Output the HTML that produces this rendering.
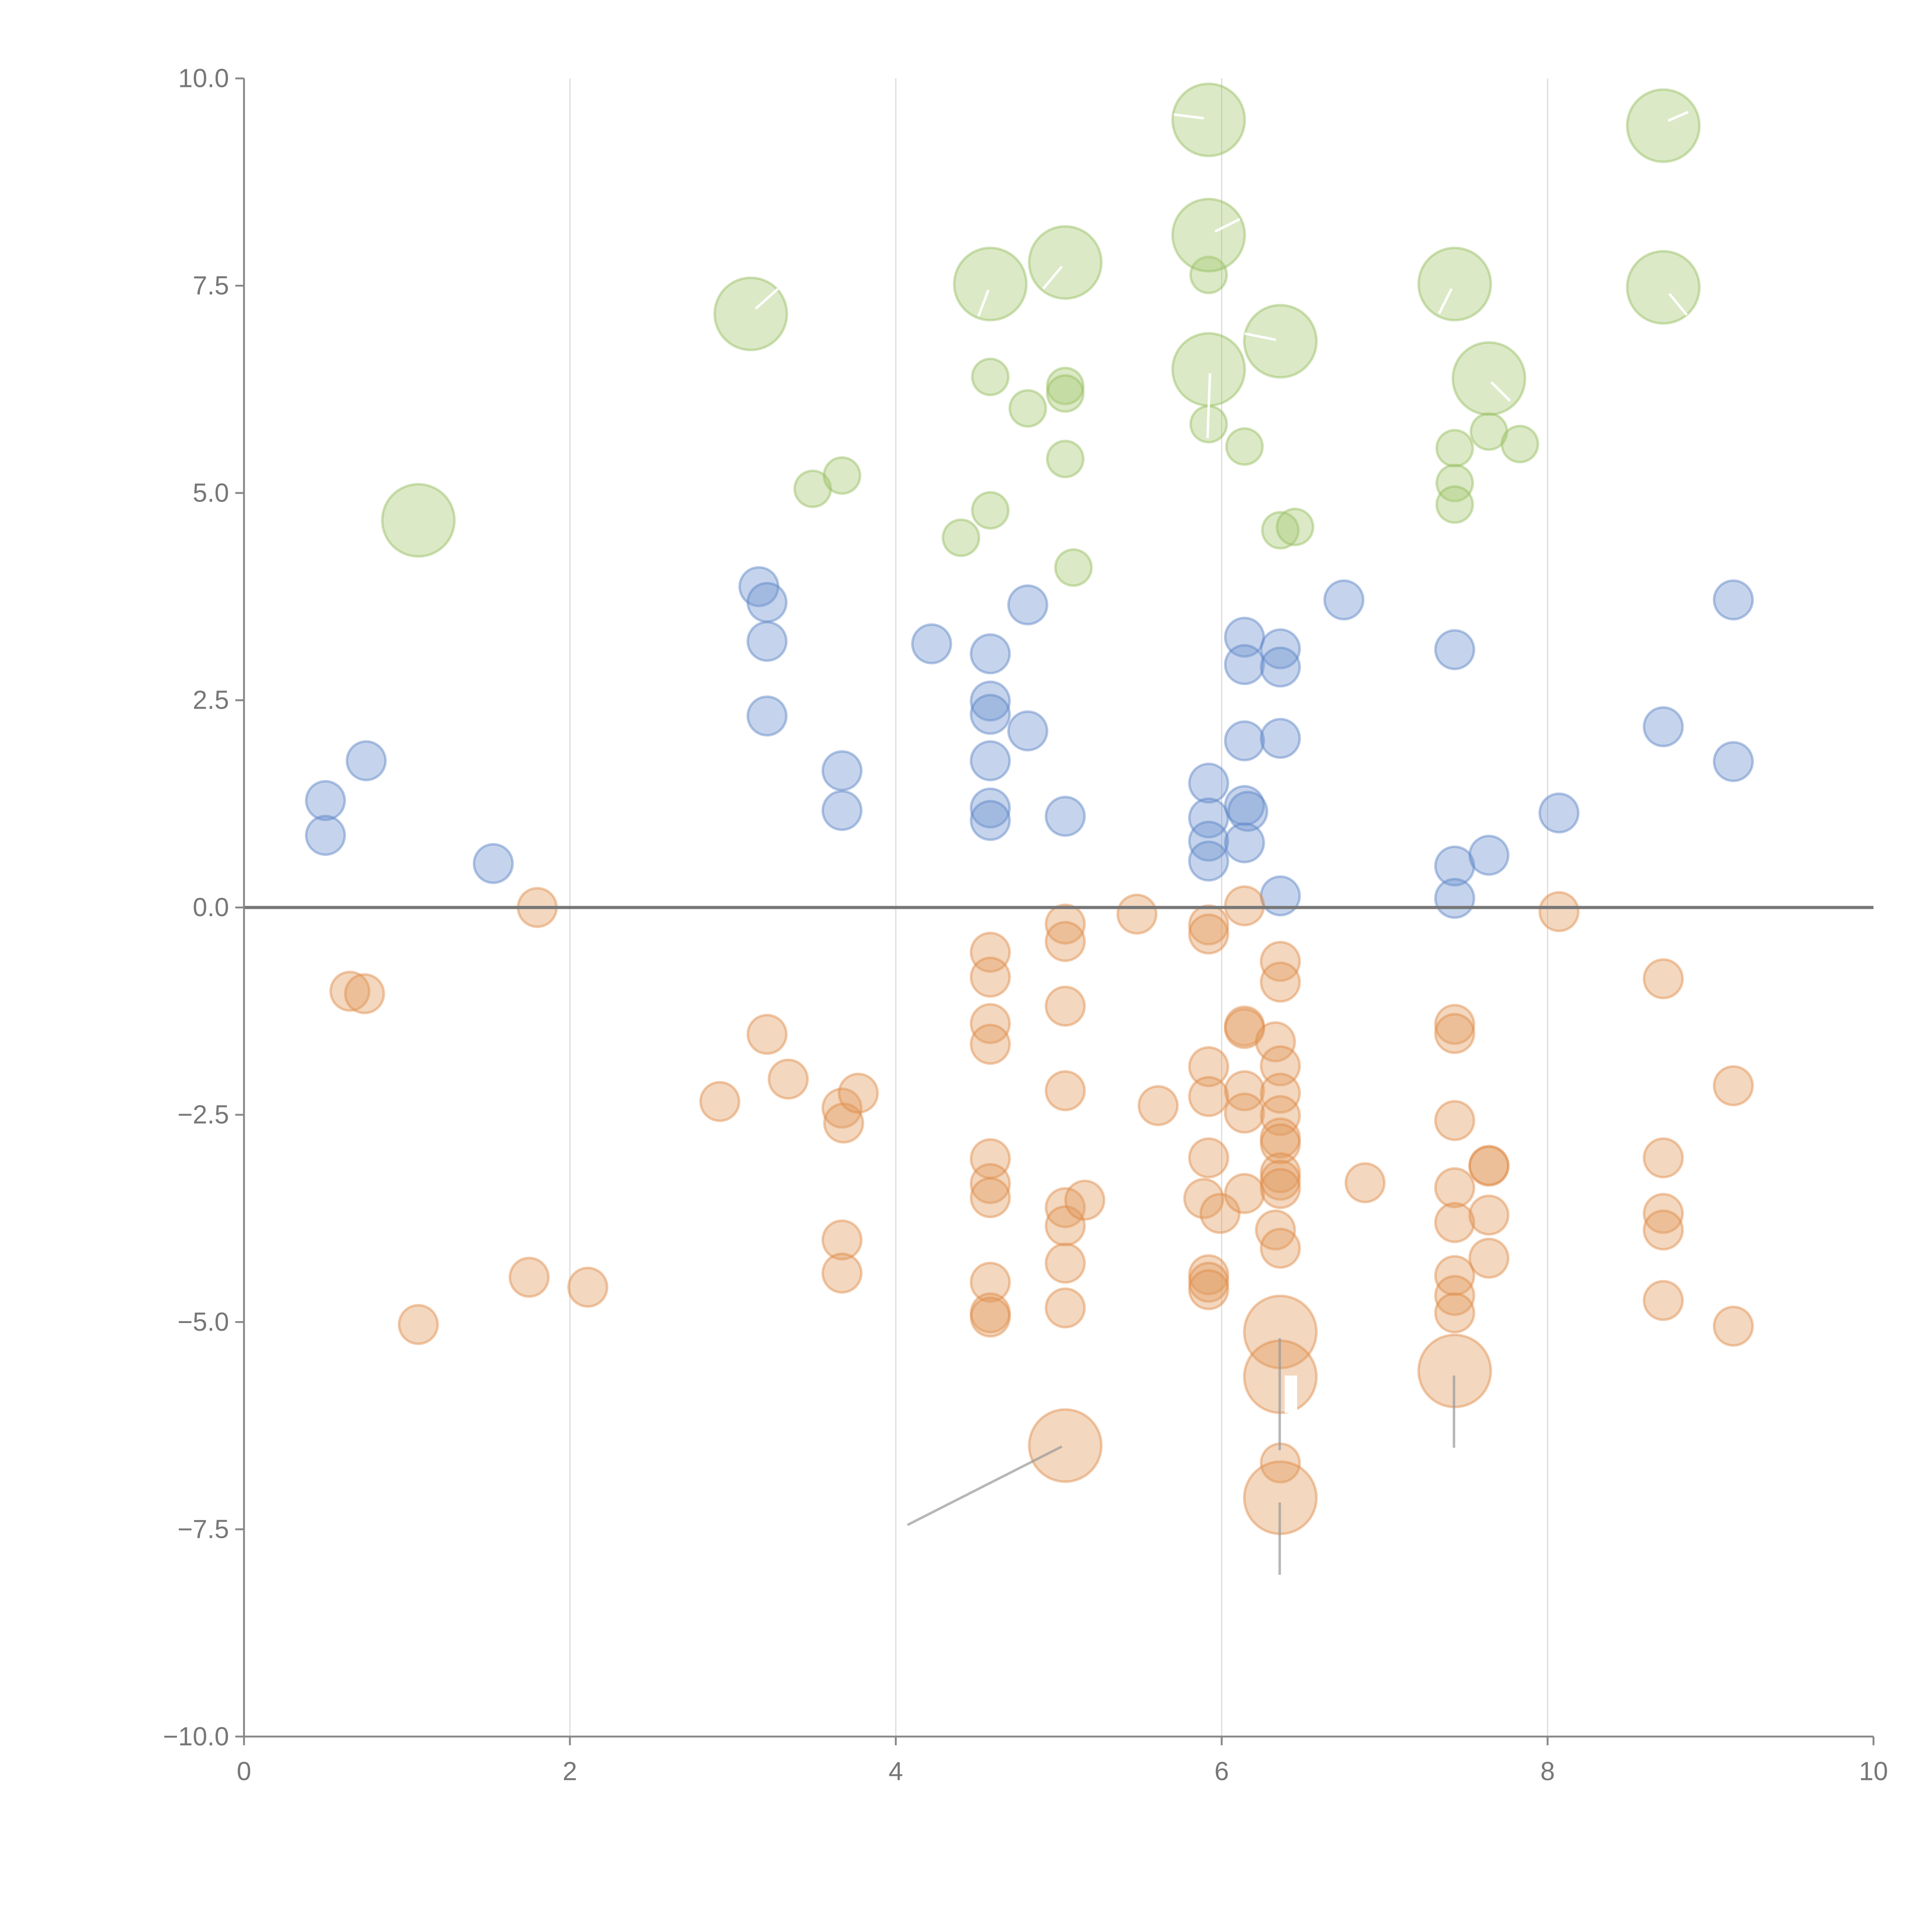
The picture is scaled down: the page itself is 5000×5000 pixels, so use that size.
<!DOCTYPE html>
<html><head><meta charset="utf-8"><style>
html,body{margin:0;padding:0;background:#fff;}
svg{display:block;}
text{font-family:"Liberation Sans",sans-serif;}
</style></head><body>
<svg id="chart" width="5000" height="5000" viewBox="0 0 1552 1552" xmlns="http://www.w3.org/2000/svg">
<g id="grid"></g>
<g id="marks"></g>
<g id="axes"></g>
</svg>
<script>
const blueX=[0.50,0.50,0.75,1.53,3.16,3.21,3.21,3.21,3.67,3.67,4.22,4.58,4.58,4.58,4.81,4.81,4.58,4.58,4.58,5.04,5.92,5.92,5.92,5.92,6.14,6.14,6.14,6.14,6.16,6.14,6.36,6.36,6.36,6.36,6.75,7.43,7.43,7.43,7.64,8.07,8.71,9.14,9.14];
const blueY=[1.29,0.87,1.77,0.53,3.87,3.68,3.21,2.31,1.65,1.17,3.18,3.06,2.49,2.33,2.13,3.65,1.77,1.20,1.05,1.10,1.50,1.08,0.80,0.56,3.26,2.93,2.01,1.23,1.16,0.78,3.12,2.90,2.04,0.14,3.71,3.11,0.50,0.11,0.63,1.14,2.18,3.71,1.76];
const greenX=[3.49,3.67,4.40,4.58,4.58,4.81,5.04,5.04,5.04,5.09,5.92,5.92,6.14,6.36,6.45,7.43,7.43,7.43,7.64,7.83];
const greenY=[5.05,5.21,4.46,6.40,4.79,6.02,6.29,6.20,5.41,4.10,7.63,5.83,5.56,4.55,4.59,5.54,5.12,4.86,5.74,5.59];
const greenBigX=[1.07,3.11,4.58,5.04,5.92,5.92,5.92,6.36,7.43,7.64,8.71,8.71];
const greenBigY=[4.67,7.16,7.52,7.78,9.50,8.11,6.49,6.83,7.52,6.38,9.43,7.48];
const orangeX=[1.80,0.65,0.74,3.21,2.92,3.34,3.67,3.68,3.77,3.67,3.67,1.75,2.11,1.07,4.58,4.58,4.58,4.58,4.58,4.58,4.58,4.58,4.58,4.58,5.04,5.04,5.04,5.04,5.04,5.04,5.16,5.04,5.04,5.48,5.61,5.92,5.92,5.92,5.92,5.92,5.89,5.99,5.92,5.92,5.92,6.14,6.14,6.14,6.14,6.14,6.14,6.36,6.36,6.33,6.36,6.36,6.36,6.36,6.36,6.36,6.36,6.36,6.33,6.36,6.36,6.88,7.43,7.43,7.43,7.43,7.43,7.43,7.43,7.43,7.64,7.64,7.64,7.64,8.07,8.71,8.71,8.71,8.71,8.71,9.14,9.14];
const orangeY=[0.0,-1.01,-1.04,-1.53,-2.34,-2.07,-2.42,-2.60,-2.24,-4.01,-4.41,-4.46,-4.58,-5.03,-0.54,-0.84,-1.40,-1.65,-3.03,-3.33,-3.50,-4.52,-4.89,-4.94,-0.20,-0.41,-1.19,-2.21,-3.62,-3.84,-3.53,-4.29,-4.83,-0.08,-2.39,-0.21,-0.32,-1.92,-2.28,-3.02,-3.51,-3.69,-4.43,-4.52,-4.61,0.02,-1.43,-1.46,-2.21,-2.48,-3.45,-0.65,-0.90,-1.62,-1.91,-2.24,-2.51,-2.78,-2.85,-3.20,-3.29,-3.39,-3.89,-4.11,-6.70,-3.32,-1.41,-1.52,-2.57,-3.38,-3.80,-4.44,-4.68,-4.89,-3.11,-3.12,-3.71,-4.23,-0.05,-0.86,-3.02,-3.69,-3.89,-4.74,-2.15,-5.05];
const orangeBigX=[5.04,6.36,6.36,7.43,6.36];
const orangeBigY=[-6.49,-5.12,-5.66,-5.59,-7.12];
const xTicks=[0,2,4,6,8,10];
const yTicks=[10,7.5,5,2.5,0,-2.5,-5,-7.5,-10];

const NS="http://www.w3.org/2000/svg";
const X0=196,X1=1505,Y0=1395,Y1=63;
function sx(v){return X0+(v-0)/(10-0)*(X1-X0);}
function sy(v){return Y0-(v+10)/20*(Y0-Y1);}
function mk(tag,attrs,parent){const e=document.createElementNS(NS,tag);for(const k in attrs)e.setAttribute(k,attrs[k]);parent.appendChild(e);return e;}
const grid=document.getElementById('grid'),marks=document.getElementById('marks'),axes=document.getElementById('axes');

[2,4,6,8].forEach(v=>{
  const l=mk('line',{x1:sx(v),x2:sx(v),y1:Y1,y2:Y0,stroke:'#dddddd','stroke-width':1},grid);
  
  
});

function series(xs,ys,r,fill,stroke,name){
  xs.forEach((x,i)=>{
    const c=mk('circle',{cx:sx(x),cy:sy(ys[i]),r:r,fill:fill,'fill-opacity':0.4,stroke:stroke,'stroke-opacity':0.45,'stroke-width':2},marks);
    
    
  });
}
series(blueX,blueY,15.5,'#6e93cf','#5a82c6','blue-bubble');
series(greenX,greenY,14.5,'#a5c870','#95bd5e','green-bubble');
series(greenBigX,greenBigY,29,'#a5c870','#95bd5e','green-large-bubble');
series(orangeX,orangeY,15.5,'#e29a5e','#e08a44','orange-bubble');
series(orangeBigX,orangeBigY,29,'#e29a5e','#e08a44','orange-large-bubble');

// leader lines for large orange bubbles
[[729,1225,853,1162],[1028,1075,1028,1165],[1028,1207,1028,1265],[1168,1105,1168,1163]].forEach(p=>{
  const l=mk('line',{x1:p[0],y1:p[1],x2:p[2],y2:p[3],stroke:'#999','stroke-opacity':0.7,'stroke-width':2},marks);
  
  
});
// white leader lines within green bubbles
[[607,248,625,232],[786,254,794,233],[838,232,853,214],[943,92,967,95],[976,186,996,176],[970,352,972,300],[1000,268,1025,273],[1156,252,1166,232],[1213,322,1198,307],[1341,236,1355,253],[1340,97,1356,90]].forEach(p=>{
  const l=mk('line',{x1:p[0],y1:p[1],x2:p[2],y2:p[3],stroke:'#fff','stroke-width':2},marks);
  
  
});
// white labels (invisible on white)
const wl=mk('rect',{x:1032,y:1105,width:10,height:30,fill:'#fff'},marks);



// zero line
const z=mk('line',{x1:X0,x2:X1,y1:sy(0),y2:sy(0),stroke:'#777','stroke-width':2.5},axes);


// axes
const ya=mk('line',{x1:X0,x2:X0,y1:Y1,y2:Y0,stroke:'#888','stroke-width':1.5},axes);


const xa=mk('line',{x1:X0,x2:X1,y1:Y0,y2:Y0,stroke:'#888','stroke-width':1.5},axes);


xTicks.forEach(v=>{
  const t=mk('line',{x1:sx(v),x2:sx(v),y1:Y0,y2:Y0+7,stroke:'#888','stroke-width':1.5},axes);
  
  
  const tx=mk('text',{x:sx(v),y:Y0+35,'text-anchor':'middle','font-size':21,fill:'#777'},axes);
  tx.textContent=String(v);
  
  
});
yTicks.forEach(v=>{
  const t=mk('line',{x1:X0-7,x2:X0,y1:sy(v),y2:sy(v),stroke:'#888','stroke-width':1.5},axes);
  
  
  const tx=mk('text',{x:X0-12,y:sy(v)+7,'text-anchor':'end','font-size':21,fill:'#777'},axes);
  tx.textContent=(v<0?'\u2212':'')+Math.abs(v).toFixed(1);
  
  
});
</script>
</body></html>
